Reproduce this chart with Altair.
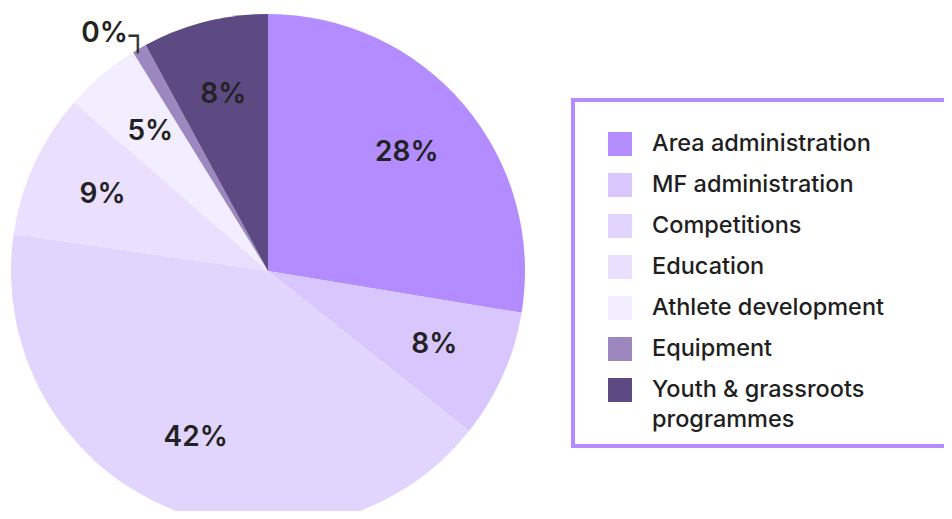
import altair as alt
import pandas as pd

categories = ["Area administration", "MF administration", "Competitions", "Education",
              "Athlete development", "Equipment", "Youth & grassroots programmes"]
values = [27.6, 8.1, 41.6, 9.1, 4.8, 0.9, 7.9]
labels = ["28%", "8%", "42%", "9%", "5%", "0%", "8%"]
colors = ["#B38CFF", "#D8C6FD", "#E1D4FD", "#EAE0FE", "#F3EEFF", "#9C88BE", "#5E4A83"]
outside = ["Equipment"]

df = pd.DataFrame({
    "category": categories,
    "value": values,
    "idx": list(range(len(categories))),
    "label_in": [l if c not in outside else "" for c, l in zip(categories, labels)],
    "label_out": [l if c in outside else "" for c, l in zip(categories, labels)],
    "leader": ["┐" if c in outside else "" for c in categories],
})

CX, CY = 260, 263
BLANK = "\u2800" * 4

base = alt.Chart(df).encode(
    theta=alt.Theta("value:Q", stack=True),
    order=alt.Order("idx:Q"),
    x=alt.value(CX),
    y=alt.value(CY),
)

arcs = base.mark_arc(outerRadius=257, clip=True).encode(
    color=alt.Color(
        "category:N",
        scale=alt.Scale(domain=categories, range=colors),
        sort=categories,
        legend=alt.Legend(
            title="\u2800",
            titleFontSize=12,
            titleLineHeight=12,
            titlePadding=6,
            titleColor="#ffffff",
            orient="none",
            legendX=565,
            legendY=92,
            padding=14,
            symbolOffset=21,
            strokeColor="#B48CFF",
            symbolType="square",
            symbolSize=576,
            symbolStrokeWidth=0,
            symbolOpacity=1,
            labelFont="Inter",
            labelFontSize=23.5,
            labelFontWeight=500,
            labelColor="#1f1f1f",
            labelOffset=20,
            labelLimit=0,
            rowPadding=17,
            labelExpr=("datum.label == 'Youth & grassroots programmes' ? "
                       "['Youth & grassroots', 'programmes'] : "
                       "(datum.label == 'Athlete development' ? datum.label + '" + BLANK + "' : datum.label)"),
        ),
    )
)

text_in = base.mark_text(radius=182, font="Inter", fontSize=28, fontWeight=600,
                         color="#222222", align="center", baseline="middle").encode(
    text="label_in:N"
)

text_out = base.mark_text(radius=274, font="Inter", fontSize=28, fontWeight=600,
                          color="#222222", align="right", baseline="middle", dx=-3).encode(
    text="label_out:N"
)

leader = base.mark_text(radius=260, font="DejaVu Sans", fontSize=30,
                        color="#333333", align="center", baseline="alphabetic").encode(
    text="leader:N"
)

chart = alt.layer(arcs, text_in, text_out, leader).properties(
    width=936, height=503,
    padding=0,
    autosize=alt.AutoSizeParams(type="none"),
).configure(
    style={"guide-label": {"lineHeight": 30}},
    view=alt.ViewConfig(stroke=None),
    legend=alt.LegendConfig(strokeWidth=4),
)

chart.save("out.html", embed_options={"renderer": "svg", "actions": False})
